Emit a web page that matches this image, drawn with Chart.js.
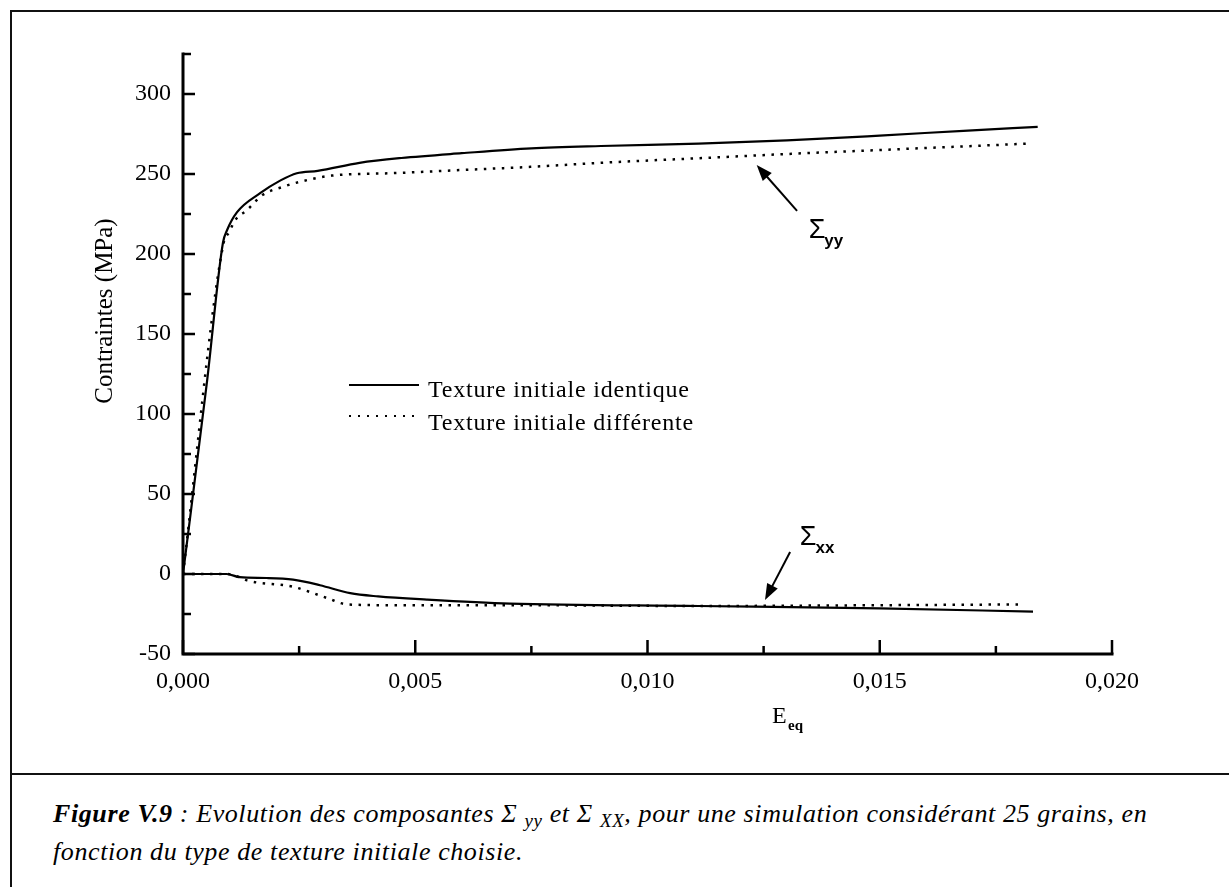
<!DOCTYPE html>
<html><head><meta charset="utf-8">
<script src="https://cdn.jsdelivr.net/npm/chart.js@4/dist/chart.umd.min.js"></script>
<style>
html,body{margin:0;padding:0;background:#fff;}
#page{position:relative;width:1229px;height:887px;overflow:hidden;background:#fff;}
#frameTop{position:absolute;left:10px;top:10px;width:1219px;height:2px;background:#111;}
#frameLeft{position:absolute;left:10px;top:10px;width:2px;height:877px;background:#111;}
#sep{position:absolute;left:10px;top:773px;width:1219px;height:2px;background:#111;}
#wrap{position:absolute;left:0;top:0;width:1229px;height:773px;}
#caption{position:absolute;left:53px;top:795px;font-family:"Liberation Serif",serif;font-style:italic;font-size:26px;letter-spacing:0.6px;line-height:38px;color:#000;white-space:nowrap;}
#caption b{font-weight:bold;}
#caption .sg{font-family:"Liberation Serif",serif;font-style:italic;}
#caption sub{font-size:19px;vertical-align:-5px;line-height:0;}
</style></head>
<body>
<div id="page">
  <div id="wrap"><canvas id="c" width="1229" height="773"></canvas></div>
  <div id="frameTop"></div><div id="frameLeft"></div><div id="sep"></div>
  <div id="caption"><b>Figure V.9</b> : Evolution des composantes <span class="sg">Σ</span> <sub>yy</sub> et <span class="sg">Σ</span> <sub>XX</sub>, pour une simulation considérant 25 grains, en<br>fonction du type de texture initiale choisie.</div>
</div>
<script>
// ---- data ----
const yySolidX = [0, 0.00052, 0.00086, 0.00095, 0.00116, 0.00166, 0.0021, 0.00245, 0.0029, 0.0038, 0.0047, 0.006, 0.0075, 0.009, 0.0111, 0.013, 0.015, 0.0168, 0.0184];
const yySolidY = [0, 121, 207, 215, 226, 238, 246, 250.5, 252, 257, 260, 263, 266, 267.5, 269, 271, 274, 277, 279.5];
const yyDotX = [0, 0.00086, 0.001, 0.00112, 0.00138, 0.00172, 0.00215, 0.0025, 0.0032, 0.0045, 0.006, 0.0075, 0.009, 0.0112, 0.013, 0.015, 0.0182];
const yyDotY = [0, 205, 214, 221, 227.5, 237, 242, 245, 249, 250.5, 252.5, 254.5, 257, 260, 262.5, 265, 269];
const xxSolidX = [0, 0.00094, 0.00122, 0.0018, 0.00237, 0.00295, 0.0036, 0.0042, 0.00525, 0.00704, 0.0111, 0.015, 0.0183];
const xxSolidY = [0, 0, -2, -2.5, -3.5, -7, -12, -14, -16, -18.5, -20, -21.5, -23.5];
const xxDotX = [0, 0.00094, 0.00122, 0.00138, 0.00237, 0.0031, 0.00353, 0.0045, 0.007, 0.0111, 0.015, 0.0181];
const xxDotY = [0, 0, -2, -4, -8, -15, -19, -19.5, -19.5, -20, -19.5, -19];

const xMajorTicks = [0, 0.005, 0.010, 0.015, 0.020];
const xMinorTicks = [0.0025, 0.0075, 0.0125, 0.0175];
const yMajorTicks = [-50, 0, 50, 100, 150, 200, 250, 300];
const yMinorTicks = [-25, 25, 75, 125, 175, 225, 275, 325];

const legendLabels = ['Texture initiale identique', 'Texture initiale différente'];
const yTitle = 'Contraintes (MPa)';

// annotation anchors in data coordinates: [tailX, tailY, tipX, tipY, textX, textY]
const annYY = [0.01322, 227, 0.01235, 255.6, 0.01347, 210];
const annXX = [0.01307, 13.75, 0.01253, -16.25, 0.01328, 18];

const pts = (xs, ys) => xs.map((x, i) => ({x: x, y: ys[i]}));
const SERIF = '"Liberation Serif", "Times New Roman", serif';
const SANS = '"Liberation Sans", Arial, sans-serif';

const decor = {
  id: 'decor',
  afterDraw(chart) {
    const ctx = chart.ctx, xs = chart.scales.x, ys = chart.scales.y;
    const X = v => xs.getPixelForValue(v), Y = v => ys.getPixelForValue(v);
    ctx.save();
    ctx.strokeStyle = '#000'; ctx.fillStyle = '#000';
    // axes
    ctx.lineWidth = 3; ctx.lineCap = 'square';
    ctx.beginPath();
    ctx.moveTo(X(0), Y(325)); ctx.lineTo(X(0), Y(-50)); ctx.lineTo(X(0.02), Y(-50));
    ctx.stroke();
    ctx.lineWidth = 2.5; ctx.lineCap = 'butt';
    ctx.beginPath();
    yMajorTicks.forEach(v => { ctx.moveTo(X(0), Y(v)); ctx.lineTo(X(0) + 12, Y(v)); });
    yMinorTicks.forEach(v => { ctx.moveTo(X(0), Y(v)); ctx.lineTo(X(0) + 8, Y(v)); });
    xMajorTicks.forEach(v => { ctx.moveTo(X(v), Y(-50)); ctx.lineTo(X(v), Y(-50) - 14); });
    xMinorTicks.forEach(v => { ctx.moveTo(X(v), Y(-50)); ctx.lineTo(X(v), Y(-50) - 8); });
    ctx.stroke();

    // y title
    ctx.save();
    ctx.translate(112, 311); ctx.rotate(-Math.PI / 2);
    ctx.font = '25px ' + SERIF; ctx.textAlign = 'center'; ctx.textBaseline = 'alphabetic';
    ctx.fillText(yTitle, 0, 0);
    ctx.restore();

    // x title E_eq
    ctx.textAlign = 'left'; ctx.textBaseline = 'alphabetic';
    ctx.font = '24px ' + SERIF;
    ctx.fillText('E', 772, 723);
    ctx.font = 'bold 15px ' + SERIF;
    ctx.fillText('eq', 788, 730);

    // legend
    ctx.lineWidth = 2;
    ctx.beginPath(); ctx.moveTo(349, 385); ctx.lineTo(419, 385); ctx.stroke();
    ctx.setLineDash([2, 7]);
    ctx.beginPath(); ctx.moveTo(349, 416); ctx.lineTo(419, 416); ctx.stroke();
    ctx.setLineDash([]);
    ctx.font = '24px ' + SERIF;
    ctx.letterSpacing = '0.8px';
    ctx.fillText(legendLabels[0], 428, 397);
    ctx.fillText(legendLabels[1], 428, 430);
    ctx.letterSpacing = '0px';

    // annotations
    function arrow(a, sub) {
      const x1 = X(a[0]), y1 = Y(a[1]), x2 = X(a[2]), y2 = Y(a[3]);
      const ang = Math.atan2(y2 - y1, x2 - x1);
      ctx.lineWidth = 2;
      ctx.beginPath(); ctx.moveTo(x1, y1);
      ctx.lineTo(x2 - 10 * Math.cos(ang), y2 - 10 * Math.sin(ang)); ctx.stroke();
      const L = 16, W = 6;
      ctx.beginPath();
      ctx.moveTo(x2, y2);
      ctx.lineTo(x2 - L * Math.cos(ang) + W * Math.sin(ang), y2 - L * Math.sin(ang) - W * Math.cos(ang));
      ctx.lineTo(x2 - L * Math.cos(ang) - W * Math.sin(ang), y2 - L * Math.sin(ang) + W * Math.cos(ang));
      ctx.closePath(); ctx.fill();
      const tx = X(a[4]), ty = Y(a[5]);
      ctx.font = '27px ' + SANS;
      ctx.fillText('Σ', tx, ty);
      const w = ctx.measureText('Σ').width;
      ctx.font = 'bold 17px ' + SANS;
      ctx.fillText(sub, tx + w - 1, ty + 8);
    }
    arrow(annYY, 'yy');
    arrow(annXX, 'xx');
    ctx.restore();
  }
};

new Chart(document.getElementById('c'), {
  type: 'line',
  data: {
    datasets: [
      {label: legendLabels[0] + ' Σyy', data: pts(yySolidX, yySolidY), borderColor: '#000', borderWidth: 2.2, pointRadius: 0, cubicInterpolationMode: 'monotone'},
      {label: legendLabels[1] + ' Σyy', data: pts(yyDotX, yyDotY), borderColor: '#000', borderWidth: 2.5, borderDash: [2.5, 6.5], pointRadius: 0, cubicInterpolationMode: 'monotone'},
      {label: legendLabels[0] + ' Σxx', data: pts(xxSolidX, xxSolidY), borderColor: '#000', borderWidth: 2.2, pointRadius: 0, cubicInterpolationMode: 'monotone'},
      {label: legendLabels[1] + ' Σxx', data: pts(xxDotX, xxDotY), borderColor: '#000', borderWidth: 2.5, borderDash: [2.5, 6.5], pointRadius: 0, cubicInterpolationMode: 'monotone'}
    ]
  },
  options: {
    responsive: false,
    animation: false,
    events: [],
    layout: {padding: {left: 0, right: 117, top: 54, bottom: 0}},
    plugins: {legend: {display: false}, tooltip: {enabled: false}},
    scales: {
      x: {
        type: 'linear', min: 0, max: 0.02,
        grid: {display: false, drawTicks: false}, border: {display: false},
        ticks: {stepSize: 0.005, padding: 13, color: '#000', font: {family: SERIF, size: 24},
          callback: v => v.toFixed(3).replace('.', ',')},
        afterFit: s => { s.height = 119; }
      },
      y: {
        type: 'linear', min: -50, max: 325,
        grid: {display: false, drawTicks: false}, border: {display: false},
        ticks: {stepSize: 50, padding: 12, color: '#000', font: {family: SERIF, size: 24},
          callback: v => (v % 50 === 0 ? String(v) : '')},
        afterFit: s => { s.width = 183; }
      }
    }
  },
  plugins: [decor]
});
</script>
</body></html>
